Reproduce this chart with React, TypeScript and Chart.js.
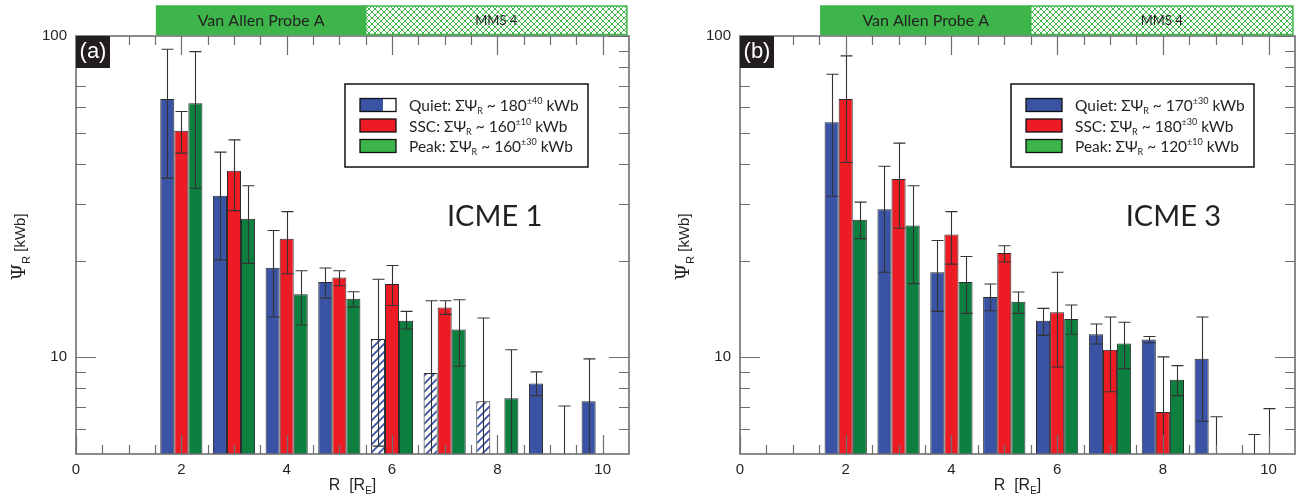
import { useEffect, useRef } from "react"
import { Chart, registerables } from "chart.js"

Chart.register(...registerables)

// radial distance bins [R_E]
const radii = [2, 3, 4, 5, 6, 7, 8, 9, 10]

// axis ticks
const xTickLabels = [0, 2, 4, 6, 8, 10]
const xMinorTicks = [0.5, 1, 1.5, 2.5, 3, 3.5, 4.5, 5, 5.5, 6.5, 7, 7.5, 8.5, 9, 9.5]
const yTickLabels = [10, 100]
const yMinorTicks = [6, 7, 8, 9, 20, 30, 40, 50, 60, 70, 80, 90]

// ICME 1 (panel a); null = below the axis / no data
const quietA = [63.7, 31.8, 19.0, 17.15, 11.4, 8.94, 7.3, 8.29, 7.3]
const quietLoA = [36.1, 20.1, 13.35, 15.3, 5.29, null, null, 7.6, null]
const quietHiA = [90.9, 43.5, 24.8, 18.96, 17.5, 15.0, 13.25, 9.01, 9.89]
const quietMmsA = [false, false, false, false, true, true, true, false, false]
const sscA = [50.7, 38.1, 23.4, 17.7, 16.9, 14.3, null, null, null]
const sscLoA = [43.2, 28.6, 18.2, 16.7, 14.5, 13.6, null, null, null]
const sscHiA = [58.2, 47.5, 28.4, 18.6, 19.3, 15.0, null, null, null]
const peakA = [61.8, 27.0, 15.7, 15.2, 13.0, 12.2, 7.46, null, null]
const peakLoA = [33.6, 19.6, 12.6, 14.35, 12.25, 9.38, null, null, null]
const peakHiA = [89.4, 34.2, 18.6, 16.0, 13.9, 15.1, 10.56, 7.05, null]
const sumsA = [180, 160, 160]
const sumErrA = ["±40", "±10", "±30"]

// ICME 3 (panel b)
const quietB = [53.9, 28.9, 18.4, 15.4, 13.0, 11.8, 11.35, 9.89, null]
const quietLoB = [31.7, 18.4, 13.9, 13.96, 11.7, 11.0, 11.1, 6.32, null]
const quietHiB = [76.0, 39.3, 23.1, 16.9, 14.2, 12.7, 11.6, 13.35, 5.75]
const quietMmsB = [false, false, false, false, false, false, false, false, false]
const sscB = [63.7, 35.9, 24.1, 21.1, 13.8, 10.56, 6.76, null, null]
const sscLoB = [40.4, 25.2, 19.5, 19.8, 9.33, 7.81, null, null, null]
const sscHiB = [86.7, 46.4, 28.4, 22.25, 18.4, 13.35, 10.03, 6.53, 6.92]
const peakB = [26.8, 25.7, 17.15, 14.9, 13.15, 11.03, 8.52, null, null]
const peakLoB = [23.4, 16.95, 13.7, 13.7, 11.8, 9.22, 7.6, null, null]
const peakHiB = [30.4, 34.2, 20.6, 15.96, 14.55, 12.85, 9.42, null, null]
const sumsB = [170, 180, 120]
const sumErrB = ["±30", "±30", "±10"]

// spacecraft coverage [R_E]
const vapRange = [1.53, 5.5]
const mmsRange = [5.5, 10.46]

const BLUE = "#3a53a4"
const RED = "#ed1c24"
const GREEN = "#0d7f3f"
const LEGEND_GREEN = "#3bb54a"
const BAND_GREEN = "#3db54a"
const AXIS = "#6d6e71"
const INK = "#231f20"
const SANS = "Lato, 'Noto Sans', sans-serif"
const TICKFONT = "'Liberation Sans', Arial, sans-serif"

type Part = { t: string; size: number; dy?: number; font?: string }

function richWidth(ctx: CanvasRenderingContext2D, parts: Part[]) {
  let w = 0
  for (const p of parts) {
    ctx.font = `${p.size}px ${p.font || SANS}`
    w += ctx.measureText(p.t).width
  }
  return w
}

function drawRich(ctx: CanvasRenderingContext2D, parts: Part[], x: number, y: number) {
  let cx = x
  for (const p of parts) {
    ctx.font = `${p.size}px ${p.font || SANS}`
    ctx.fillText(p.t, cx, y + (p.dy || 0))
    cx += ctx.measureText(p.t).width
  }
}

function makeHatch(color: string) {
  const c = document.createElement("canvas")
  c.width = 8
  c.height = 8
  const g = c.getContext("2d")!
  g.fillStyle = "#fff"
  g.fillRect(0, 0, 8, 8)
  g.strokeStyle = color
  g.lineWidth = 1.8
  g.beginPath()
  g.moveTo(-1, 9)
  g.lineTo(9, -1)
  g.moveTo(-1, 1)
  g.lineTo(1, -1)
  g.moveTo(7, 9)
  g.lineTo(9, 7)
  g.stroke()
  return g.createPattern(c, "repeat")!
}

function makeCrossHatch(color: string) {
  const c = document.createElement("canvas")
  c.width = 6
  c.height = 6
  const g = c.getContext("2d")!
  g.fillStyle = "#fff"
  g.fillRect(0, 0, 6, 6)
  g.strokeStyle = color
  g.lineWidth = 1
  g.beginPath()
  g.moveTo(0, 0)
  g.lineTo(6, 6)
  g.moveTo(6, 0)
  g.lineTo(0, 6)
  g.stroke()
  return g.createPattern(c, "repeat")!
}

type PanelProps = {
  tag: string
  event: string
  eventAt: [number, number]
  quiet: (number | null)[]
  quietLo: (number | null)[]
  quietHi: (number | null)[]
  quietMms: boolean[]
  ssc: (number | null)[]
  sscLo: (number | null)[]
  sscHi: (number | null)[]
  peak: (number | null)[]
  peakLo: (number | null)[]
  peakHi: (number | null)[]
  sums: number[]
  sumErr: string[]
  splitQuiet: boolean
  yAxisWidth: number
  padRight: number
}

function Panel(p: PanelProps) {
  const ref = useRef<HTMLCanvasElement>(null)
  const chartRef = useRef<Chart | null>(null)

  useEffect(() => {
    if (!ref.current) return
    if (chartRef.current) chartRef.current.destroy()
    const ctx = ref.current.getContext("2d")
    if (!ctx) return

    const hatch = makeHatch(BLUE)
    const cross = makeCrossHatch(BAND_GREEN)
    const pts = (vals: (number | null)[]) => radii.map((r, i) => ({ x: r, y: vals[i] }))

    const overlay = {
      id: "overlay",
      afterDatasetsDraw(chart: any) {
        const c = chart.ctx as CanvasRenderingContext2D
        const ca = chart.chartArea
        const xs = chart.scales.x
        const ys = chart.scales.y

        // error bars
        c.save()
        c.beginPath()
        c.rect(ca.left, ca.top, ca.right - ca.left, ca.bottom - ca.top)
        c.clip()
        c.strokeStyle = "#333"
        c.lineWidth = 1.1
        chart.data.datasets.forEach((ds: any, di: number) => {
          const meta = chart.getDatasetMeta(di)
          meta.data.forEach((bar: any, i: number) => {
            const hi = ds.errHi[i]
            if (hi == null) return
            const lo = ds.errLo[i]
            const x = Math.round(bar.x) + 0.5
            const yh = ys.getPixelForValue(hi)
            const yl = lo == null ? ca.bottom + 5 : ys.getPixelForValue(lo)
            const half = 6
            c.beginPath()
            c.moveTo(x, yh)
            c.lineTo(x, yl)
            c.moveTo(x - half, yh)
            c.lineTo(x + half, yh)
            if (lo != null) {
              c.moveTo(x - half, yl)
              c.lineTo(x + half, yl)
            }
            c.stroke()
          })
        })
        c.restore()

        // frame and inward ticks on all sides
        c.save()
        c.strokeStyle = AXIS
        c.lineWidth = 1.2
        c.beginPath()
        const tickX = (v: number, len: number) => {
          const x = Math.round(xs.getPixelForValue(v)) + 0.5
          c.moveTo(x, ca.bottom)
          c.lineTo(x, ca.bottom - len)
          c.moveTo(x, ca.top)
          c.lineTo(x, ca.top + len)
        }
        const tickY = (v: number, len: number) => {
          const y = Math.round(ys.getPixelForValue(v)) + 0.5
          c.moveTo(ca.left, y)
          c.lineTo(ca.left + len, y)
          c.moveTo(ca.right, y)
          c.lineTo(ca.right - len, y)
        }
        xMinorTicks.forEach((v) => tickX(v, 9))
        xTickLabels.forEach((v) => tickX(v, 19))
        yMinorTicks.forEach((v) => tickY(v, 10))
        yTickLabels.forEach((v) => tickY(v, 20))
        c.stroke()
        c.lineWidth = 1.6
        c.strokeRect(ca.left, ca.top, ca.right - ca.left, ca.bottom - ca.top)
        c.restore()
      },
      afterDraw(chart: any) {
        const c = chart.ctx as CanvasRenderingContext2D
        const ca = chart.chartArea
        const xs = chart.scales.x
        const ys = chart.scales.y
        c.save()

        // spacecraft bands
        const bandTop = ca.top - 30
        const bandH = 28.5
        const drawBand = (range: number[], label: string, solid: boolean, size: number) => {
          const x0 = xs.getPixelForValue(range[0])
          const x1 = xs.getPixelForValue(range[1])
          c.fillStyle = solid ? BAND_GREEN : cross
          c.fillRect(x0, bandTop, x1 - x0, bandH)
          c.strokeStyle = BAND_GREEN
          c.lineWidth = 1.5
          c.strokeRect(x0, bandTop, x1 - x0, bandH)
          c.fillStyle = INK
          c.font = `${size}px ${SANS}`
          c.textAlign = "center"
          c.textBaseline = "middle"
          c.fillText(label, (x0 + x1) / 2, bandTop + bandH / 2 + 1)
        }
        drawBand(vapRange, "Van Allen Probe A", true, 16)
        drawBand(mmsRange, "MMS 4", false, 13)

        // panel tag
        c.fillStyle = "#231f20"
        c.fillRect(ca.left, ca.top, 34, 32)
        c.fillStyle = "#fff"
        c.font = `22px ${TICKFONT}`
        c.textAlign = "center"
        c.textBaseline = "middle"
        c.fillText(p.tag, ca.left + 17, ca.top + 16)

        // event name
        c.fillStyle = INK
        c.font = `29px ${SANS}`
        c.fillText(p.event, xs.getPixelForValue(p.eventAt[0]), ys.getPixelForValue(p.eventAt[1]))

        // legend
        const boxW = 243
        const boxH = 83
        const boxL = ca.right - 41 - boxW
        const boxT = ca.top + 48
        c.fillStyle = "#fff"
        c.fillRect(boxL, boxT, boxW, boxH)
        c.strokeStyle = "#111"
        c.lineWidth = 1.5
        c.strokeRect(boxL, boxT, boxW, boxH)
        const names = ["Quiet", "SSC", "Peak"]
        const colors = [BLUE, RED, LEGEND_GREEN]
        c.textAlign = "left"
        c.textBaseline = "alphabetic"
        names.forEach((n, k) => {
          const cy = boxT + 21 + k * 20.5
          const sx = boxL + 15
          c.fillStyle = colors[k]
          c.fillRect(sx, cy - 6.5, 36, 13)
          if (k === 0 && p.splitQuiet) {
            c.fillStyle = "#fff"
            c.fillRect(sx + 23, cy - 6.5, 13, 13)
          }
          c.strokeStyle = "#111"
          c.lineWidth = 1.3
          c.strokeRect(sx, cy - 6.5, 36, 13)
          c.fillStyle = INK
          drawRich(
            c,
            [
              { t: `${n}: ΣΨ`, size: 15.5 },
              { t: "R", size: 9, dy: 3 },
              { t: ` ~ ${p.sums[k]}`, size: 15.5 },
              { t: p.sumErr[k], size: 9, dy: -7 },
              { t: " kWb", size: 15.5 },
            ],
            boxL + 64,
            cy + 6
          )
        })

        // x title
        c.fillStyle = INK
        const xParts: Part[] = [
          { t: "R  [R", size: 16, font: TICKFONT },
          { t: "E", size: 10, dy: 4, font: TICKFONT },
          { t: "]", size: 16, font: TICKFONT },
        ]
        const xw = richWidth(c, xParts)
        drawRich(c, xParts, (ca.left + ca.right) / 2 - xw / 2, ca.bottom + 36)

        // y title
        const yParts: Part[] = [
          { t: "Ψ", size: 19, font: "'DejaVu Serif', 'Liberation Serif', serif" },
          { t: "R", size: 11, dy: 5, font: TICKFONT },
          { t: " [kWb]", size: 15, font: TICKFONT },
        ]
        const yw = richWidth(c, yParts)
        c.translate(ca.left - 51, (ca.top + ca.bottom) / 2 + 2)
        c.rotate(-Math.PI / 2)
        drawRich(c, yParts, -yw / 2, 0)
        c.restore()
      },
    }

    chartRef.current = new Chart(ctx, {
      type: "bar",
      data: {
        datasets: [
          {
            label: "Quiet",
            data: pts(p.quiet),
            backgroundColor: p.quietMms.map((m) => (m ? hatch : BLUE)),
            errLo: p.quietLo,
            errHi: p.quietHi,
          },
          { label: "SSC", data: pts(p.ssc), backgroundColor: RED, errLo: p.sscLo, errHi: p.sscHi },
          { label: "Peak", data: pts(p.peak), backgroundColor: GREEN, errLo: p.peakLo, errHi: p.peakHi },
        ] as any,
      },
      options: {
        animation: false,
        responsive: false,
        maintainAspectRatio: false,
        datasets: {
          bar: {
            categoryPercentage: 0.8,
            barPercentage: 1,
            borderColor: "#2a2a2a",
            borderWidth: 1,
          },
        },
        layout: { padding: { left: 0, right: p.padRight, top: 36, bottom: 0 } },
        plugins: {
          legend: { display: false },
          tooltip: { enabled: false },
        },
        scales: {
          x: {
            type: "linear",
            min: 0,
            max: 10.5,
            offset: false,
            grid: { display: false, drawTicks: false },
            border: { display: false },
            ticks: {
              padding: 7,
              color: INK,
              font: { family: TICKFONT, size: 15 },
              callback: (v: any) => String(v),
            },
            afterBuildTicks: (s: any) => {
              s.ticks = xTickLabels.map((v) => ({ value: v }))
            },
            afterFit: (s: any) => {
              s.height = 46
            },
          },
          y: {
            type: "logarithmic",
            min: 5,
            max: 100,
            grid: { display: false, drawTicks: false },
            border: { display: false },
            ticks: {
              padding: 9,
              color: INK,
              font: { family: TICKFONT, size: 15 },
              callback: (v: any) => String(v),
            },
            afterBuildTicks: (s: any) => {
              s.ticks = yTickLabels.map((v) => ({ value: v }))
            },
            afterFit: (s: any) => {
              s.width = p.yAxisWidth
            },
          },
        },
      },
      plugins: [overlay],
    })

    return () => {
      if (chartRef.current) {
        chartRef.current.destroy()
        chartRef.current = null
      }
    }
  }, [])

  return <canvas ref={ref} width={648} height={500} style={{ display: "block", width: 648, height: 500 }} />
}

export default function App() {
  return (
    <div style={{ position: "absolute", left: 0, top: 0, width: 1296, height: 500, display: "flex", background: "#fff" }}>
      <Panel
        tag="(a)"
        event="ICME 1"
        eventAt={[7.95, 27.4]}
        quiet={quietA}
        quietLo={quietLoA}
        quietHi={quietHiA}
        quietMms={quietMmsA}
        ssc={sscA}
        sscLo={sscLoA}
        sscHi={sscHiA}
        peak={peakA}
        peakLo={peakLoA}
        peakHi={peakHiA}
        sums={sumsA}
        sumErr={sumErrA}
        splitQuiet={true}
        yAxisWidth={76}
        padRight={19}
      />
      <Panel
        tag="(b)"
        event="ICME 3"
        eventAt={[8.2, 27.4]}
        quiet={quietB}
        quietLo={quietLoB}
        quietHi={quietHiB}
        quietMms={quietMmsB}
        ssc={sscB}
        sscLo={sscLoB}
        sscHi={sscHiB}
        peak={peakB}
        peakLo={peakLoB}
        peakHi={peakHiB}
        sums={sumsB}
        sumErr={sumErrB}
        splitQuiet={false}
        yAxisWidth={92}
        padRight={1}
      />
    </div>
  )
}
